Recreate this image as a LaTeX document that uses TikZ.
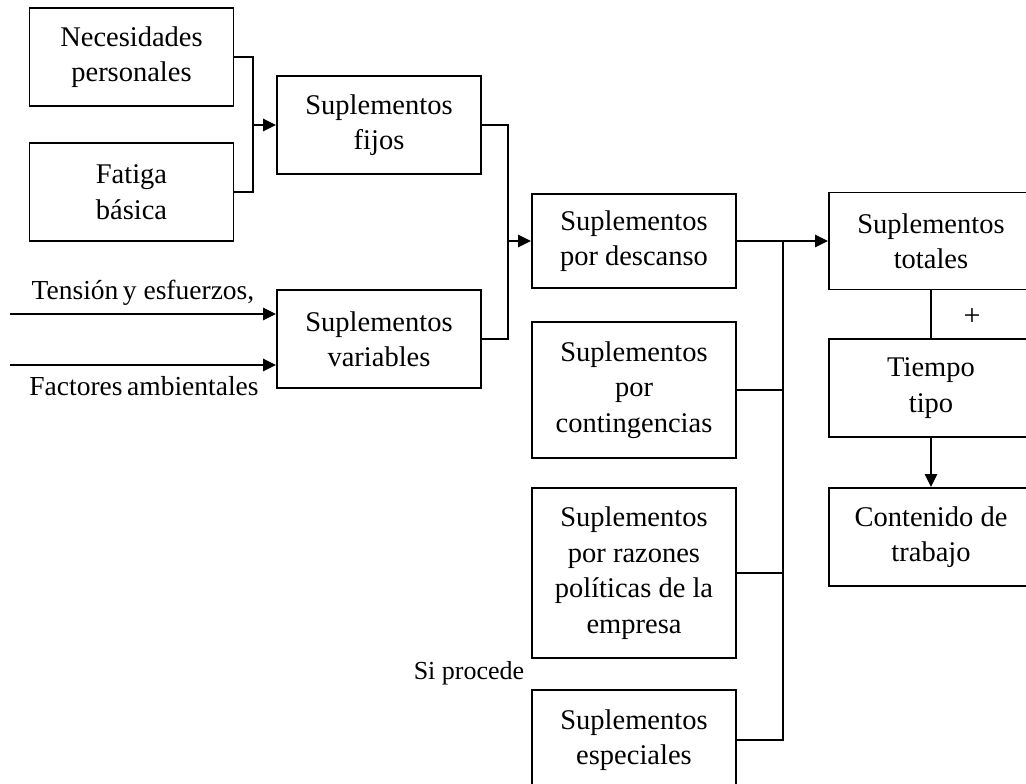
\documentclass[tikz,border=0pt]{standalone}
\usepackage{fontspec}
\setmainfont{Liberation Serif}
\usetikzlibrary{arrows.meta}
\begin{document}
\begin{tikzpicture}[x=1pt,y=-1pt,
  box/.style={draw,line width=1.9pt,minimum width=204pt,align=center,inner sep=0pt,
    font=\fontsize{28.5}{35.5}\selectfont},
  conn/.style={line width=2.6pt},
  arr/.style={line width=2.6pt,-{Triangle[length=13pt,width=12pt]}},
  lbl/.style={font=\fontsize{27.5}{35}\selectfont,inner sep=0pt}]
\useasboundingbox (0,0) rectangle (1026,784);
\clip (0,0) rectangle (1026,784);
\node[box,minimum height=98pt] (nec) at (131.5,57) {Necesidades\\personales};
\node[box,minimum height=98pt] (fat) at (131.5,192) {Fatiga\\básica};
\node[box,minimum height=98pt] (fij) at (379,125) {Suplementos\\fijos};
\node[box,minimum height=98pt] (var) at (379,339) {Suplementos\\variables};
\node[box,minimum height=94pt] (des) at (634,241) {Suplementos\\por descanso};
\node[box,minimum height=136pt] (con) at (634,390) {Suplementos\\por\\contingencias};
\node[box,minimum height=170pt] (raz) at (634,573) {Suplementos\\por razones\\políticas de la\\empresa};
\node[box,minimum height=100pt] (esp) at (634,740) {Suplementos\\especiales};
\node[box,minimum height=97pt] (tot) at (931,241) {Suplementos\\totales};
\node[box,minimum height=98pt] (tie) at (931,388) {Tiempo\\tipo};
\node[box,minimum height=98pt] (cnt) at (931,537) {Contenido de\\trabajo};
\coordinate (j1) at (253,125);
\coordinate (j2) at (508,241);
\coordinate (j3) at (783,241);
\coordinate (t1) at (10,314);
\coordinate (t2) at (10,365);
\draw[conn] (nec.east) -| (j1) |- (fat.east);
\draw[arr] (j1) -- (fij.west);
\draw[conn] (fij.east) -| (j2) |- (var.east);
\draw[arr] (j2) -- (des.west);
\draw[arr] (des.east) -- (tot.west);
\draw[conn] (j3) |- (con.east);
\draw[conn] (j3) |- (raz.east);
\draw[conn] (j3) |- (esp.east);
\draw[arr] (t1) -- (t1 -| var.west);
\draw[arr] (t2) -- (t2 -| var.west);
\node[lbl] (ten) at (143,293) {Tensión\,y esfuerzos,};
\node[lbl] (fac) at (144,386) {Factores\,ambientales};
\node[lbl,font=\fontsize{26}{30}\selectfont] (sip) at (469,673) {Si procede};
\draw[line width=1.9pt] (tot.south) -- (tie.north);
\node[lbl,font=\fontsize{30}{30}\selectfont] (plus) at (972,317) {+};
\draw[arr] (tie.south) -- (cnt.north);
\end{tikzpicture}
\end{document}
